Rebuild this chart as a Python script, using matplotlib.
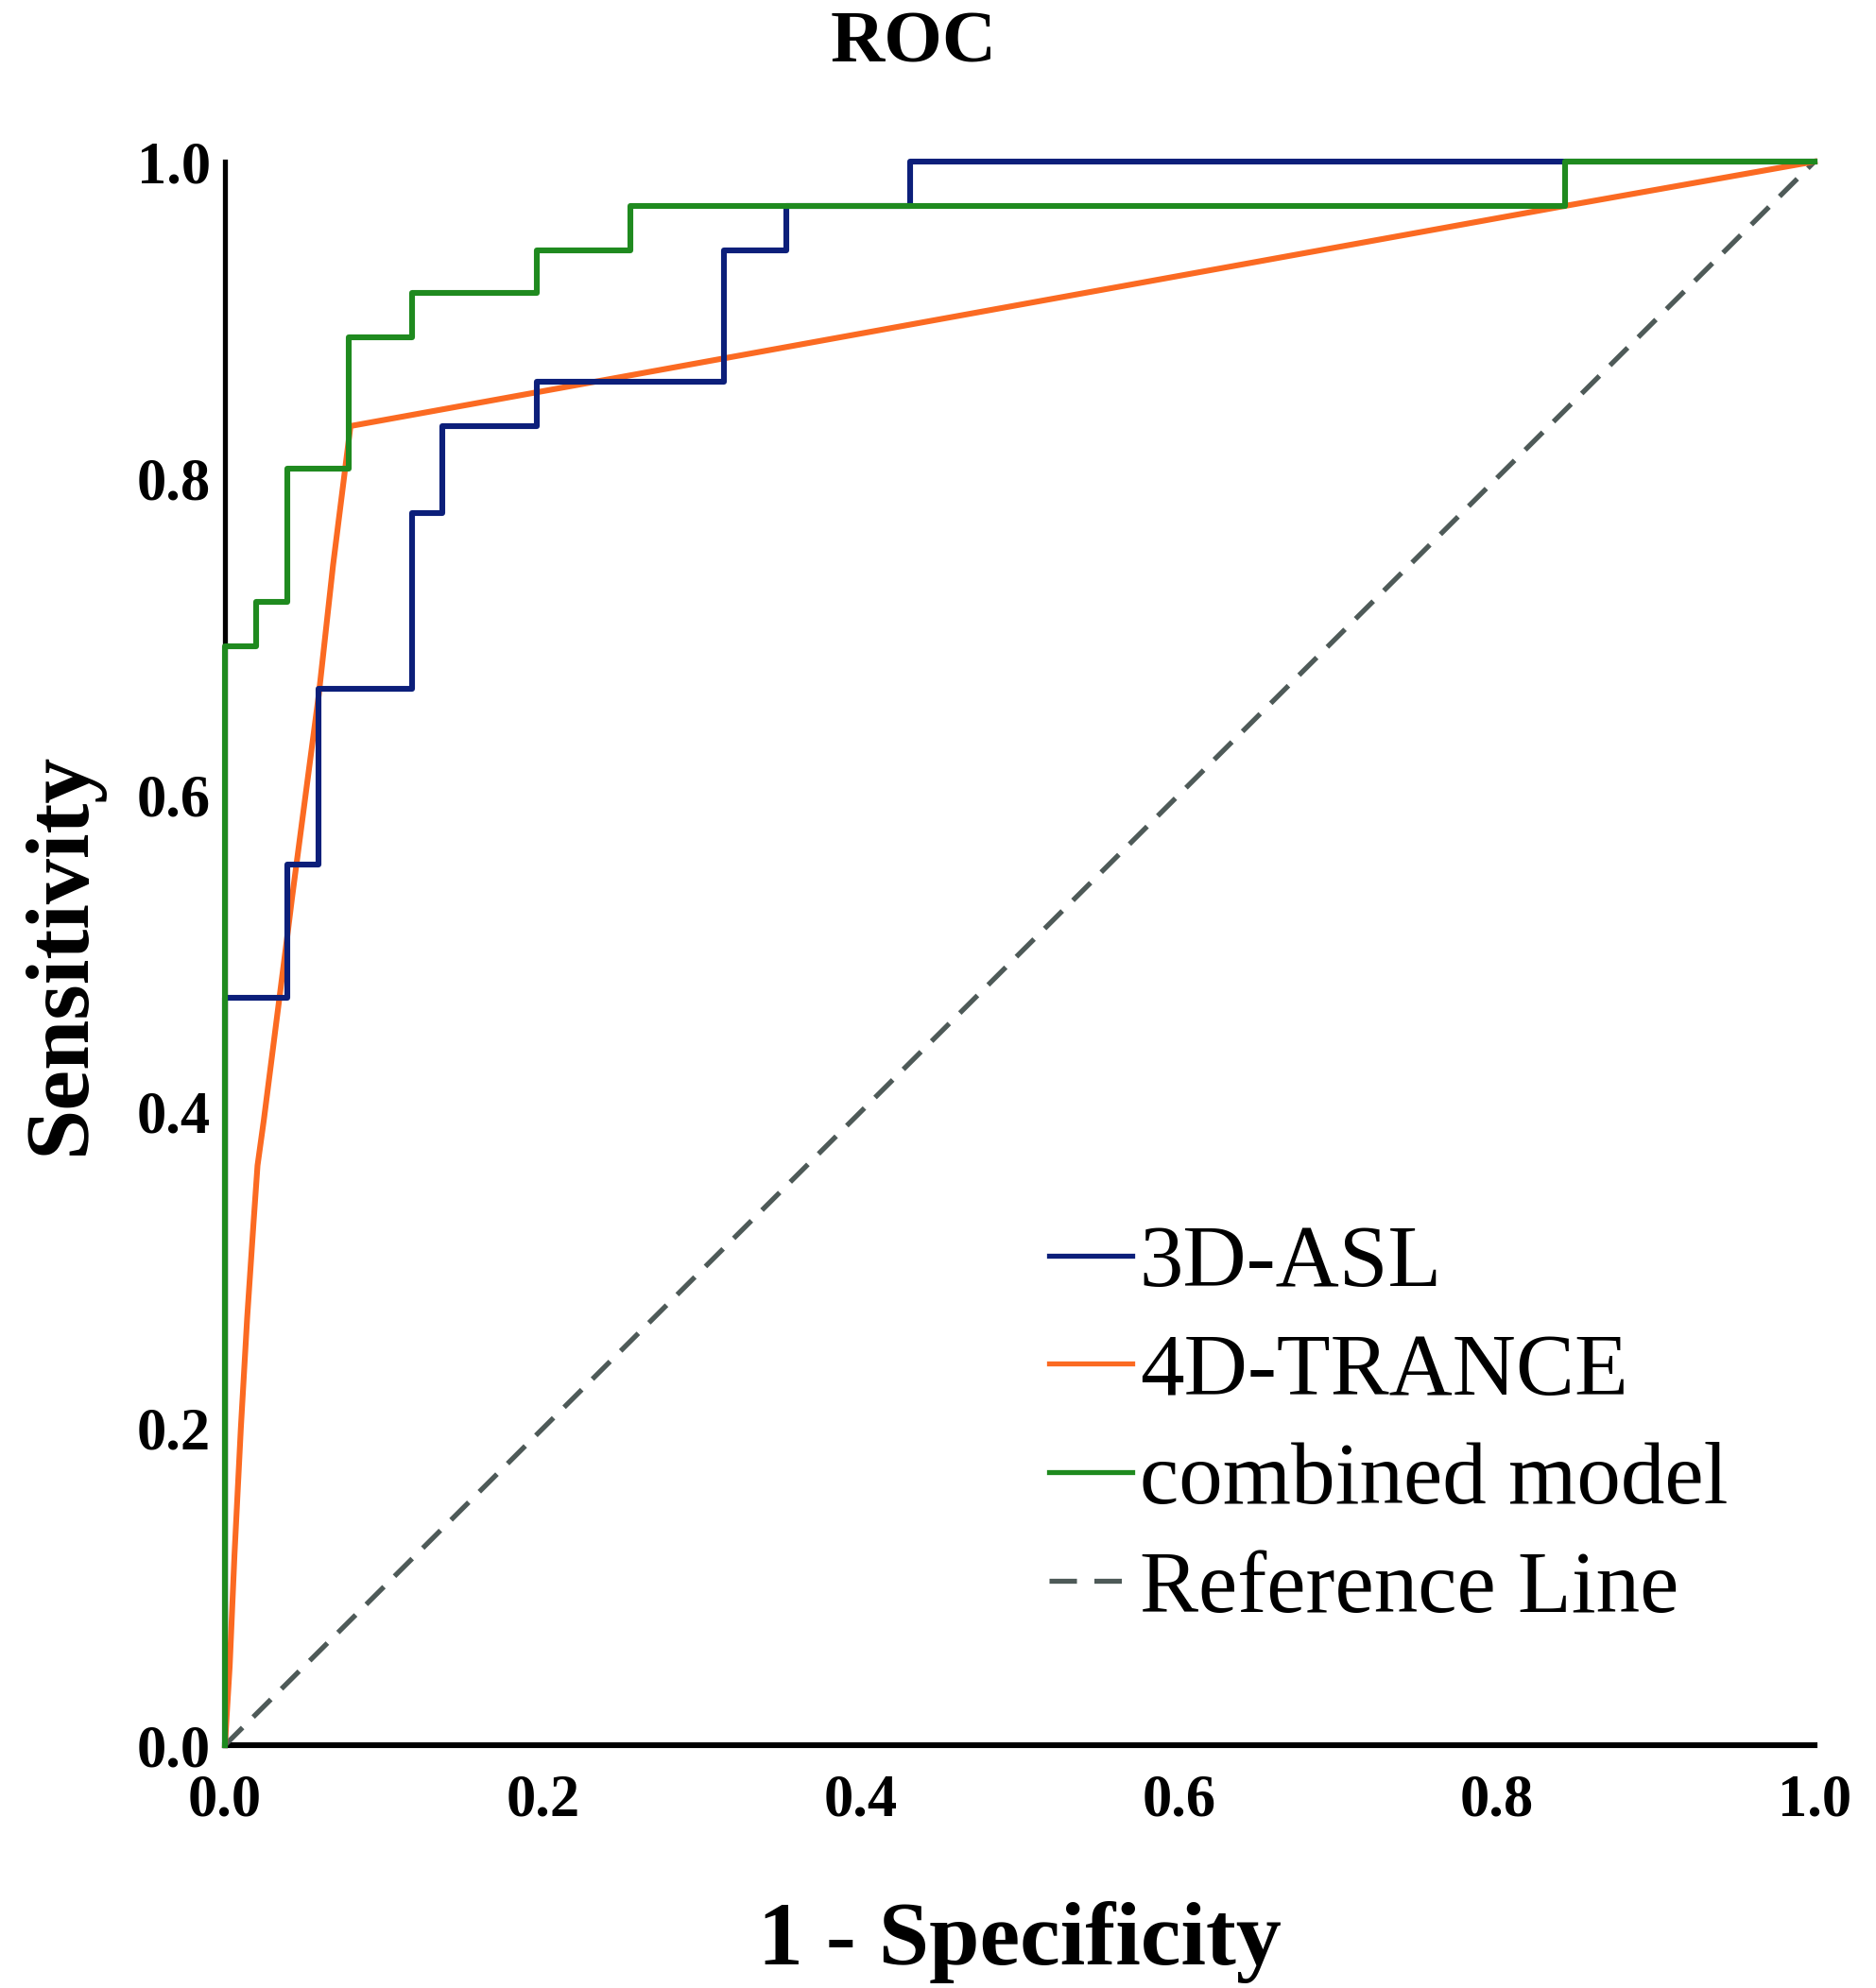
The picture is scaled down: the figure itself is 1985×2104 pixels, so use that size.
import matplotlib
matplotlib.use('Agg')
import matplotlib.pyplot as plt
from matplotlib.lines import Line2D

plt.rcParams['font.family'] = ['Liberation Serif', 'DejaVu Serif']

# ROC-точки (1 - специфичность, чувствительность)
asl_fpr = [0, 0, 0.039, 0.059, 0.118, 0.137, 0.196, 0.314, 0.353, 0.431, 1.0]
asl_tpr = [0, 0.472, 0.556, 0.667, 0.778, 0.833, 0.861, 0.944, 0.972, 1.0, 1.0]

trance_fpr = [0, 0.003, 0.006, 0.010, 0.014, 0.018, 0.0205, 0.0245, 0.0343,
              0.039, 0.0422, 0.059, 0.068, 0.079, 0.843, 1.0]
trance_tpr = [0, 0.05, 0.12, 0.20, 0.27, 0.33, 0.366, 0.395, 0.472,
              0.509, 0.535, 0.663, 0.745, 0.833, 0.972, 1.0]

comb_fpr = [0, 0, 0.0196, 0.039, 0.078, 0.118, 0.196, 0.255, 0.843, 1.0]
comb_tpr = [0, 0.694, 0.722, 0.806, 0.889, 0.917, 0.944, 0.972, 1.0, 1.0]

ref_x = [0, 1]
ref_y = [0, 1]

ticks = [0.0, 0.2, 0.4, 0.6, 0.8, 1.0]
tick_labels = ['0.0', '0.2', '0.4', '0.6', '0.8', '1.0']
labels = ['3D-ASL', '4D-TRANCE', 'combined model', 'Reference Line']

c_blue = '#0c1f7a'
c_orange = '#fb6a22'
c_green = '#1f8a1f'
c_ref = '#4e5a58'

fig = plt.figure(figsize=(19.85, 21.04), dpi=100)
ax = fig.add_axes([238 / 1985, 1 - 1847 / 2104, 1682 / 1985, 1676 / 2104])

lw = 4.4
ax.plot(ref_x, ref_y, color=c_ref, lw=3.8, dashes=(5, 3), zorder=3, clip_on=False)
ax.plot(trance_fpr, trance_tpr, color=c_orange, lw=lw, zorder=4, clip_on=False)
ax.plot(asl_fpr, asl_tpr, color=c_blue, lw=lw, drawstyle='steps-post', zorder=5, clip_on=False)
ax.plot(comb_fpr, comb_tpr, color=c_green, lw=lw, drawstyle='steps-post', zorder=6, clip_on=False)

ax.set_xlim(0, 1)
ax.set_ylim(0, 1)
ax.set_xticks(ticks)
ax.set_xticklabels(tick_labels)
ax.set_yticks(ticks)
ax.set_yticklabels(tick_labels)
ax.tick_params(axis='x', length=0, pad=22, labelsize=45)
ax.tick_params(axis='y', length=0, pad=11, labelsize=45)
for lab in ax.get_xticklabels() + ax.get_yticklabels():
    lab.set_fontweight('bold')

ax.spines['top'].set_visible(False)
ax.spines['right'].set_visible(False)
ax.spines['left'].set_linewidth(3.8)
ax.spines['bottom'].set_linewidth(4.4)

ax.set_xlabel('1 - Specificity', fontsize=69, fontweight='bold')
ax.xaxis.set_label_coords(0.5, -0.0985)
ax.xaxis.label.set_verticalalignment('top')
ax.set_ylabel('Sensitivity', fontsize=69, fontweight='bold')
ax.yaxis.set_label_coords(-0.0767, 0.5)

fig.text(967 / 1985, 1 - 65 / 2104, 'ROC', fontsize=57, fontweight='bold',
         ha='center', va='baseline')

# легенда: отдельные заглушки, чтобы пунктир был из двух штрихов
handles = [
    Line2D([], [], color=c_blue, lw=3.8),
    Line2D([], [], color=c_orange, lw=3.8),
    Line2D([], [], color=c_green, lw=3.8),
    Line2D([], [], color=c_ref, lw=3.8, dashes=(5.5, 3.5)),
]
ax.legend(handles, labels, loc='upper left',
          bbox_to_anchor=(1110 / 1985, 1 - 1296 / 2104),
          bbox_transform=fig.transFigure, frameon=False, fontsize=67,
          handlelength=0.95, handletextpad=0.08, labelspacing=0.32,
          borderpad=0, borderaxespad=0)

fig.savefig('out.png', dpi=100, facecolor='white')
